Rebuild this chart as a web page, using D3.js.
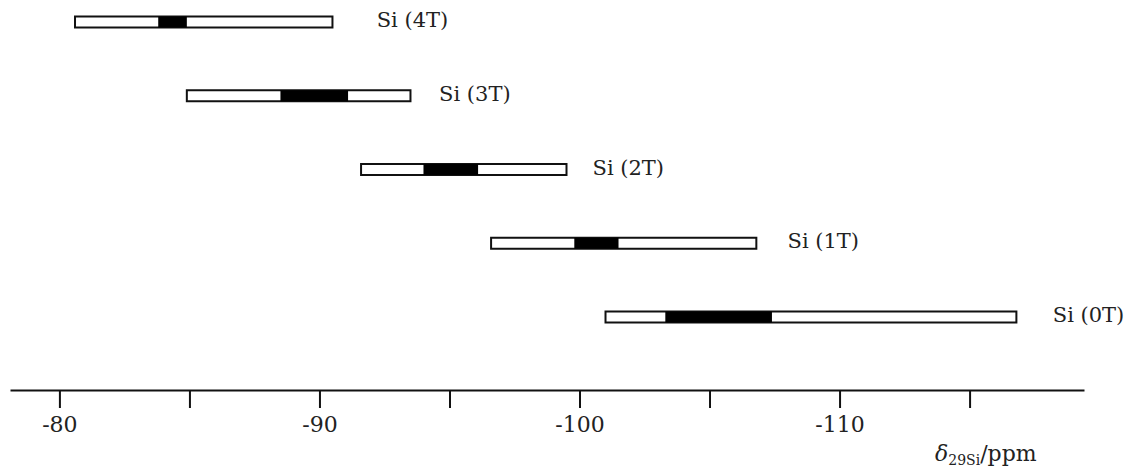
<!DOCTYPE html>
<html lang="en">

<head>
    <meta charset="UTF-8">
    <title>29Si shift ranges</title>
    <script src="https://cdn.jsdelivr.net/npm/d3@7"></script>
    <style>
        body { margin: 0; background: #fff; }
        text { font-family: "DejaVu Serif", serif; fill: #222; }
    </style>
</head>

<body>
    <svg id="chart" width="1131" height="469"></svg>

    <script>
        // Si species, top to bottom
        const species = ['Si (4T)', 'Si (3T)', 'Si (2T)', 'Si (1T)', 'Si (0T)']
        // full shift range (ppm)
        const rangeStart = [-80.6, -84.9, -91.6, -96.6, -101.0]
        const rangeEnd = [-90.5, -93.5, -99.5, -106.8, -116.8]
        // most common range (black part)
        const coreStart = [-83.8, -88.5, -94.0, -99.8, -103.3]
        const coreEnd = [-84.9, -91.1, -96.1, -101.5, -107.4]
        // where each label starts (ppm)
        const labelAt = [-92.2, -94.6, -100.5, -108.0, -118.2]
        // axis ticks
        const tickValues = [-80, -85, -90, -95, -100, -105, -110, -115]
        const tickLabels = ['-80', '', '-90', '', '-100', '', '-110', '']

        const rows = species.map((s, i) => ({
            name: s,
            lo: rangeStart[i], hi: rangeEnd[i],
            cLo: coreStart[i], cHi: coreEnd[i],
            lab: labelAt[i]
        }))

        const svg = d3.select('#chart')
        const axisY = 390
        const barH = 11

        const x = d3.scaleLinear().domain([-78.1, -119.4]).range([10, 1084])
        const y = d3.scalePoint().domain(species).range([22, 317])

        // axis
        const axis = d3.axisBottom(x)
            .tickValues(tickValues)
            .tickFormat((d, i) => tickLabels[i])
            .tickSize(18)
            .tickSizeOuter(0)
            .tickPadding(8)

        const gx = svg.append('g')
            .attr('transform', `translate(0,${axisY})`)
            .call(axis)
        gx.select('.domain').attr('stroke', '#111').attr('stroke-width', 2)
        gx.selectAll('.tick line').attr('stroke', '#111').attr('stroke-width', 2)
        gx.selectAll('.tick text')
            .attr('font-family', '"DejaVu Serif", serif')
            .attr('font-size', 22)
            .attr('fill', '#222')

        // axis title
        const title = svg.append('text')
            .attr('x', 935)
            .attr('y', 461)
            .attr('font-size', 22)
        title.append('tspan').attr('font-style', 'italic').text('δ')
        title.append('tspan').attr('font-size', 14).attr('dy', 4).text('29Si')
        title.append('tspan').attr('dy', -4).text('/ppm')

        // bars
        const g = svg.append('g')
            .selectAll('g')
            .data(rows)
            .join('g')

        g.append('rect')
            .attr('x', d => x(d.lo))
            .attr('y', d => y(d.name) - barH / 2)
            .attr('width', d => x(d.hi) - x(d.lo))
            .attr('height', barH)
            .attr('fill', '#fff')
            .attr('stroke', '#111')
            .attr('stroke-width', 2)

        g.append('rect')
            .attr('x', d => x(d.cLo))
            .attr('y', d => y(d.name) - barH / 2)
            .attr('width', d => x(d.cHi) - x(d.cLo))
            .attr('height', barH)
            .attr('fill', '#000')

        g.append('text')
            .attr('x', d => x(d.lab))
            .attr('y', d => y(d.name) + 5)
            .attr('font-size', 21)
            .text(d => d.name)
    </script>
</body>

</html>
